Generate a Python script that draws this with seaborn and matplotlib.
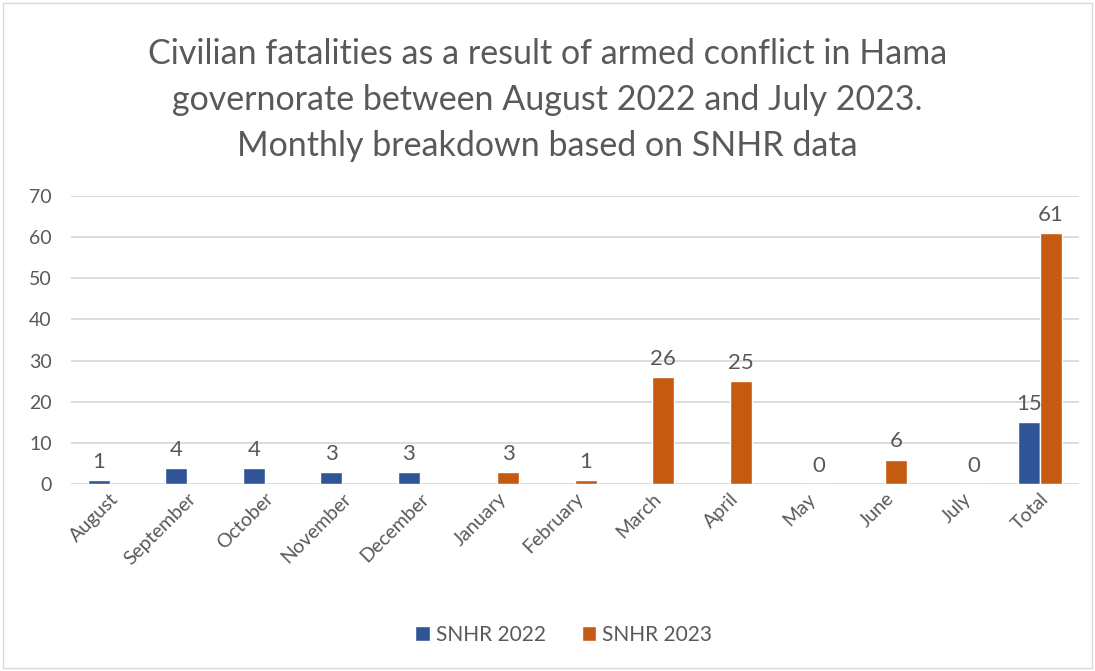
import pandas as pd
import numpy as np
import matplotlib
matplotlib.use("Agg")
import matplotlib.pyplot as plt
import seaborn as sns

# Data (NaN = no bar in that series)
months = ['August', 'September', 'October', 'November', 'December', 'January',
          'February', 'March', 'April', 'May', 'June', 'July', 'Total']
snhr_2022 = [1, 4, 4, 3, 3, np.nan, np.nan, np.nan, np.nan, np.nan, np.nan, np.nan, 15]
snhr_2023 = [np.nan, np.nan, np.nan, np.nan, np.nan, 3, 1, 26, 25, 0, 6, 0, 61]
series = ['SNHR 2022', 'SNHR 2023']

df = pd.DataFrame({'month': months, 'SNHR 2022': snhr_2022, 'SNHR 2023': snhr_2023})
df = df.melt(id_vars='month', var_name='serie', value_name='mortos')

sns.set_style("white")
plt.rcParams['font.family'] = ['Lato', 'DejaVu Sans']
cinza = '#595959'

fig = plt.figure(figsize=(10.95, 6.71), dpi=100)
ax = fig.add_axes([0.065, 0.2782, 0.92, 0.4301])

sns.barplot(
    data=df, x='month', y='mortos', hue='serie',
    order=months, hue_order=series,
    palette=['#2F5597', '#C55A11'], saturation=1,
    width=0.57, errorbar=None, ax=ax, legend=True
)

# rótulos em cima das barras
for cont in ax.containers:
    alturas = [b.get_height() for b in cont]
    ax.bar_label(cont, labels=[f'{h:g}' if not np.isnan(h) else '' for h in alturas],
                 padding=6, fontsize=16, color=cinza)

ax.set_ylim(0, 70)
ax.set_yticks(range(0, 71, 10))
ax.yaxis.grid(True, color='#D9D9D9', linewidth=1.3)
ax.set_axisbelow(True)
for s in ax.spines.values():
    s.set_visible(False)
ax.set_xlabel('')
ax.set_ylabel('')
ax.tick_params(axis='y', labelsize=14, labelcolor=cinza, length=0, pad=14)
ax.tick_params(axis='x', labelsize=14, labelcolor=cinza, length=0, pad=4)
plt.setp(ax.get_xticklabels(), rotation=45, ha='right', rotation_mode='anchor')

fig.text(0.5, 0.851,
         'Civilian fatalities as a result of armed conflict in Hama\n'
         'governorate between August 2022 and July 2023.\n'
         'Monthly breakdown based on SNHR data',
         ha='center', va='center', fontsize=24.5, color=cinza, linespacing=1.55)

ax.legend(loc='center', bbox_to_anchor=(0.515, 0.054), bbox_transform=fig.transFigure,
          ncol=2, frameon=False, fontsize=15, labelcolor=cinza,
          handlelength=0.7, handleheight=0.7, handletextpad=0.3, columnspacing=1.7)

# moldura do gráfico
fig.patches.append(plt.Rectangle((0.003, 0.004), 0.994, 0.992, transform=fig.transFigure,
                                 fill=False, edgecolor='#D9D9D9', linewidth=1))

fig.savefig('out.png', dpi=100)
